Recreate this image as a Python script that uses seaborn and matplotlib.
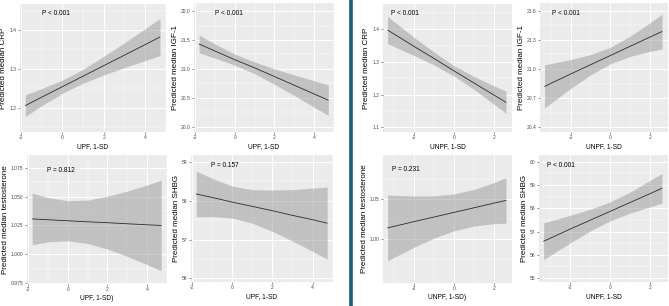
import pandas as pd
import seaborn as sns
import matplotlib.pyplot as plt
from matplotlib.lines import Line2D
from matplotlib.ticker import FixedLocator

# exposure grids (1-SD units)
upf_x = [-1.8, -1, 0, 1, 2, 3, 4, 4.73]
unpf_x = [-3.32, -2, -1, 0, 1, 2, 2.62]

# UPF panels: fitted median, lower and upper CI
crp_upf_fit = [1.205, 1.227, 1.254, 1.281, 1.308, 1.335, 1.362, 1.382]
crp_upf_lo = [1.177, 1.205, 1.237, 1.263, 1.284, 1.303, 1.321, 1.334]
crp_upf_hi = [1.233, 1.249, 1.271, 1.299, 1.332, 1.367, 1.403, 1.430]

igf_upf_fit = [21.43, 21.31, 21.16, 21.02, 20.87, 20.72, 20.57, 20.46]
igf_upf_lo = [21.275, 21.188, 21.064, 20.919, 20.737, 20.542, 20.342, 20.195]
igf_upf_hi = [21.585, 21.432, 21.256, 21.121, 21.003, 20.898, 20.798, 20.725]

tes_upf_fit = [1.0307, 1.0300, 1.0291, 1.0282, 1.0274, 1.0265, 1.0256, 1.0250]
tes_upf_lo = [1.0082, 1.0107, 1.0116, 1.0093, 1.0044, 0.9982, 0.9910, 0.9855]
tes_upf_hi = [1.0532, 1.0493, 1.0466, 1.0471, 1.0504, 1.0548, 1.0602, 1.0645]

shbg_upf_fit = [58.17, 58.08, 57.96, 57.85, 57.74, 57.62, 57.51, 57.42]
shbg_upf_lo = [57.585, 57.59, 57.55, 57.42, 57.21, 56.96, 56.70, 56.495]
shbg_upf_hi = [58.755, 58.57, 58.37, 58.28, 58.27, 58.28, 58.32, 58.345]

# UNPF panels
crp_unpf_fit = [1.398, 1.348, 1.311, 1.273, 1.236, 1.199, 1.176]
crp_unpf_lo = [1.356, 1.320, 1.291, 1.257, 1.216, 1.171, 1.142]
crp_unpf_hi = [1.440, 1.376, 1.331, 1.289, 1.256, 1.227, 1.210]

igf_unpf_fit = [20.82, 20.948, 21.043, 21.138, 21.233, 21.328, 21.386]
igf_unpf_lo = [20.598, 20.799, 20.938, 21.053, 21.129, 21.181, 21.206]
igf_unpf_hi = [21.042, 21.097, 21.148, 21.223, 21.337, 21.475, 21.566]

tes_unpf_fit = [1.0137, 1.0215, 1.0272, 1.0330, 1.0387, 1.0445, 1.0480]
tes_unpf_lo = [0.9727, 0.9896, 1.0008, 1.0099, 1.0159, 1.0190, 1.0195]
tes_unpf_hi = [1.0547, 1.0534, 1.0536, 1.0561, 1.0615, 1.0700, 1.0765]

shbg_unpf_fit = [56.58, 57.10, 57.48, 57.86, 58.24, 58.62, 58.86]
shbg_unpf_lo = [55.795, 56.507, 57.013, 57.45, 57.79, 58.053, 58.22]
shbg_unpf_hi = [57.365, 57.693, 57.947, 58.27, 58.69, 59.187, 59.50]

p_labels = ["P < 0.001", "P < 0.001", "P = 0.812", "P = 0.157",
            "P < 0.001", "P < 0.001", "P = 0.231", "P < 0.001"]

W, H = 669, 306

sns.set_theme(style="darkgrid", rc={"axes.facecolor": "#EBEBEB",
                                     "grid.color": "white",
                                     "figure.facecolor": "white"})
plt.rcParams["font.family"] = ["Liberation Sans", "DejaVu Sans"]

panels = [
    # x, fit, lo, hi, xlabel, ylabel, yticks, fmt, ylim, box(l, r, t, b), ptext pos
    (upf_x, crp_upf_fit, crp_upf_lo, crp_upf_hi, "UPF, 1-SD", "Predicted median CRP",
     [1.2, 1.3, 1.4], "{:.1f}", (1.137, 1.467), (20, 166, 4, 132), (0.149, 0.922)),
    (upf_x, igf_upf_fit, igf_upf_lo, igf_upf_hi, "UPF, 1-SD", "Predicted median IGF-1",
     [20.0, 20.5, 21.0, 21.5, 22.0], "{:.1f}", (19.91, 22.14), (194, 334, 3, 132), (0.149, 0.92)),
    (upf_x, tes_upf_fit, tes_upf_lo, tes_upf_hi, "UPF, 1-SD)", "Predicted median testosterone",
     [0.975, 1.0, 1.025, 1.05, 1.075], "{:.3f}", (0.974, 1.0864), (27, 167, 155, 284), (0.141, 0.878)),
    (upf_x, shbg_upf_fit, shbg_upf_lo, shbg_upf_hi, "UPF, 1-SD", "Predicted median SHBG",
     [56, 57, 58, 59], "{:.0f}", (55.91, 59.17), (191, 333, 155, 282), (0.141, 0.921)),
    (unpf_x, crp_unpf_fit, crp_unpf_lo, crp_unpf_hi, "UNPF, 1-SD", "Predicted median CRP",
     [1.1, 1.2, 1.3, 1.4], "{:.1f}", (1.085, 1.478), (383, 512, 4, 132), (0.062, 0.922)),
    (unpf_x, igf_unpf_fit, igf_unpf_lo, igf_unpf_hi, "UNPF, 1-SD", "Predicted median IGF-1",
     [20.4, 20.7, 21.0, 21.3, 21.6], "{:.1f}", (20.35, 21.68), (540, 668, 3, 132), (0.091, 0.915)),
    (unpf_x, tes_unpf_fit, tes_unpf_lo, tes_unpf_hi, "UNPF, 1-SD)", "Predicted median testosterone",
     [1.0, 1.05], "{:.2f}", (0.945, 1.1046), (383, 512, 155, 283), (0.072, 0.883)),
    (unpf_x, shbg_unpf_fit, shbg_unpf_lo, shbg_unpf_hi, "UNPF, 1-SD", "Predicted median SHBG",
     [55, 56, 57, 58, 59, 60], "{:.0f}", (54.83, 60.29), (539, 668, 155, 282), (0.06, 0.921)),
]

fig = plt.figure(figsize=(W / 100, H / 100), dpi=100)

for i, (xs, fit, lo, hi, xlab, ylab, yt, fmt, ylim, box, ppos) in enumerate(panels):
    l, r, t, b = box
    ax = fig.add_axes([l / W, 1 - b / H, (r - l) / W, (b - t) / H])
    df = pd.DataFrame({"x": xs, "fit": fit, "lo": lo, "hi": hi})
    ax.fill_between(df["x"], df["lo"], df["hi"], color="#999999", alpha=0.5, lw=0)
    sns.lineplot(data=df, x="x", y="fit", ax=ax, color="#2b2b2b", lw=0.6)

    if xs is upf_x:
        xt = [-2, 0, 2, 4]
        ax.set_xlim(-2.06, 5.02)
    else:
        xt = [-2, 0, 2]
        ax.set_xlim(-3.55, 2.92)
    ax.set_ylim(*ylim)
    ax.set_xticks(xt)
    ax.set_xticklabels([str(v) for v in xt])
    ax.set_yticks(yt)
    ax.set_yticklabels([fmt.format(v) for v in yt])
    step_x = xt[1] - xt[0]
    step_y = yt[1] - yt[0]
    ax.xaxis.set_minor_locator(FixedLocator([xt[0] - step_x / 2] + [v + step_x / 2 for v in xt]))
    ax.yaxis.set_minor_locator(FixedLocator([yt[0] - step_y / 2] + [v + step_y / 2 for v in yt]))
    ax.grid(which="major", color="white", lw=0.7)
    ax.grid(which="minor", color="white", lw=0.35)
    ax.tick_params(which="major", labelsize=3.6, labelcolor="#4D4D4D", color="#333333",
                   length=1.5, width=0.4, pad=1, bottom=True, left=True)
    ax.tick_params(which="minor", length=0)
    for s in ax.spines.values():
        s.set_visible(False)
    ax.set_xlabel(xlab, fontsize=4.8, labelpad=1.5, color="black")
    ax.set_ylabel(ylab, fontsize=5.8, labelpad=1.5, color="black")
    ax.text(ppos[0], ppos[1], p_labels[i], transform=ax.transAxes, fontsize=4.7,
            ha="left", va="center", color="black")

fig.add_artist(Line2D([350.5 / W, 350.5 / W], [0, 1], color="#1B5E7B", lw=2.6))

fig.savefig("out.png", dpi=100)
